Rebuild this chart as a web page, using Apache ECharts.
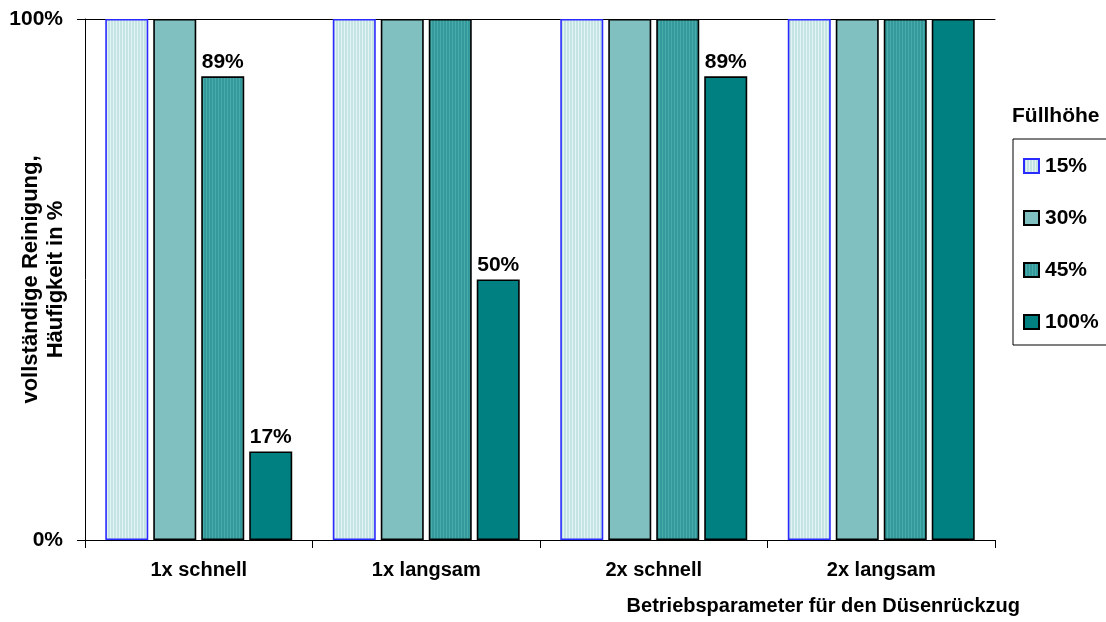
<!DOCTYPE html>
<html>
<head>
<meta charset="utf-8">
<script src="https://cdn.jsdelivr.net/npm/echarts@6/dist/echarts.min.js"></script>
<style>
  html, body { margin: 0; padding: 0; background: #fff; }
  #chart { width: 1106px; height: 622px; }
</style>
</head>
<body>
<div id="chart"></div>
<script>
// categories + values (Häufigkeit in %)
const categories = ['1x schnell', '1x langsam', '2x schnell', '2x langsam']
const seriesNames = ['15%', '30%', '45%', '100%']
const fill15 = [100, 100, 100, 100]
const fill30 = [100, 100, 100, 100]
const fill45 = [89, 100, 100, 100]
const fill100 = [17, 50, 89, 100]
const yTicks = [0, 100]

const font = 'Liberation Sans, Arial, sans-serif'

// vertical stripe pattern like the old excel fills
function stripes(a, b) {
  const c = document.createElement('canvas')
  c.width = 3
  c.height = 4
  const ctx = c.getContext('2d')
  ctx.fillStyle = a
  ctx.fillRect(0, 0, 3, 4)
  ctx.fillStyle = b
  ctx.fillRect(2, 0, 1, 4)
  return { image: c, repeat: 'repeat' }
}

const labelFmt = p => (p.value < 100 ? p.value + '%' : '')

const chart = echarts.init(document.getElementById('chart'))

function bar(name, data, color, border, withLabel) {
  return {
    name: name,
    type: 'bar',
    xAxisIndex: 0,
    barWidth: 43,
    barGap: '11.6%',
    data: data,
    itemStyle: { color: color, borderColor: border, borderWidth: 1.6 },
    label: {
      show: withLabel,
      position: 'top',
      distance: 4,
      formatter: labelFmt,
      color: '#000',
      fontSize: 21,
      fontWeight: 'bold',
      fontFamily: font
    },
    emphasis: { disabled: true },
    animation: false
  }
}

chart.setOption({
  title: {
    text: 'Füllhöhe',
    left: 1012,
    top: 106,
    padding: 0,
    textStyle: { fontSize: 21, fontWeight: 'bold', fontFamily: font, color: '#000' }
  },
  legend: {
    orient: 'vertical',
    left: 1013,
    top: 139,
    padding: [16, 30, 12, 10],
    icon: 'rect',
    itemWidth: 15,
    itemHeight: 14,
    itemGap: 30,
    borderColor: '#000',
    borderWidth: 1,
    data: seriesNames,
    textStyle: { fontSize: 21, fontWeight: 'bold', fontFamily: font, color: '#000', lineHeight: 22, padding: [0, 0, 0, 1] }
  },
  grid: { left: 85, right: 111, top: 19, bottom: 82, outerBoundsMode: 'none', containLabel: false },
  xAxis: [
    {
      type: 'category',
      data: categories,
      axisLine: { show: true, lineStyle: { color: '#000', width: 1 } },
      axisTick: { show: true, length: 8, lineStyle: { color: '#000' } },
      axisLabel: { margin: 20, color: '#000', fontSize: 20, fontWeight: 'bold', fontFamily: font },
      name: 'Betriebsparameter für den Düsenrückzug',
      nameLocation: 'end',
      nameGap: 25,
      nameMoveOverlap: false,
      nameTextStyle: {
        align: 'right',
        verticalAlign: 'top',
        padding: [56, 0, 0, 0],
        color: '#000',
        fontSize: 20,
        fontWeight: 'bold',
        fontFamily: font
      }
    },
    {
      type: 'category',
      data: categories,
      position: 'top',
      axisLine: { show: true, lineStyle: { color: '#000', width: 1 } },
      axisTick: { show: false },
      axisLabel: { show: false }
    }
  ],
  yAxis: {
    type: 'value',
    min: yTicks[0],
    max: yTicks[1],
    interval: 100,
    axisLine: { show: true, lineStyle: { color: '#000', width: 1 } },
    axisTick: { show: true, length: 8, lineStyle: { color: '#000' } },
    splitLine: { show: false },
    axisLabel: { formatter: '{value}%', margin: 22, color: '#000', fontSize: 21, fontWeight: 'bold', fontFamily: font },
    name: 'vollständige Reinigung,\nHäufigkeit in %',
    nameLocation: 'middle',
    nameGap: 17,
    nameMoveOverlap: false,
    nameTextStyle: { color: '#000', fontSize: 22, fontWeight: 'bold', fontFamily: font, lineHeight: 25 }
  },
  series: [
    bar('15%', fill15, stripes('#c4e3e3', '#e4f3f3'), '#2b2bff', false),
    bar('30%', fill30, '#80c0c0', '#000', false),
    bar('45%', fill45, stripes('#33999a', '#4aabab'), '#000', true),
    bar('100%', fill100, '#008080', '#000', true)
  ]
})
</script>
</body>
</html>
